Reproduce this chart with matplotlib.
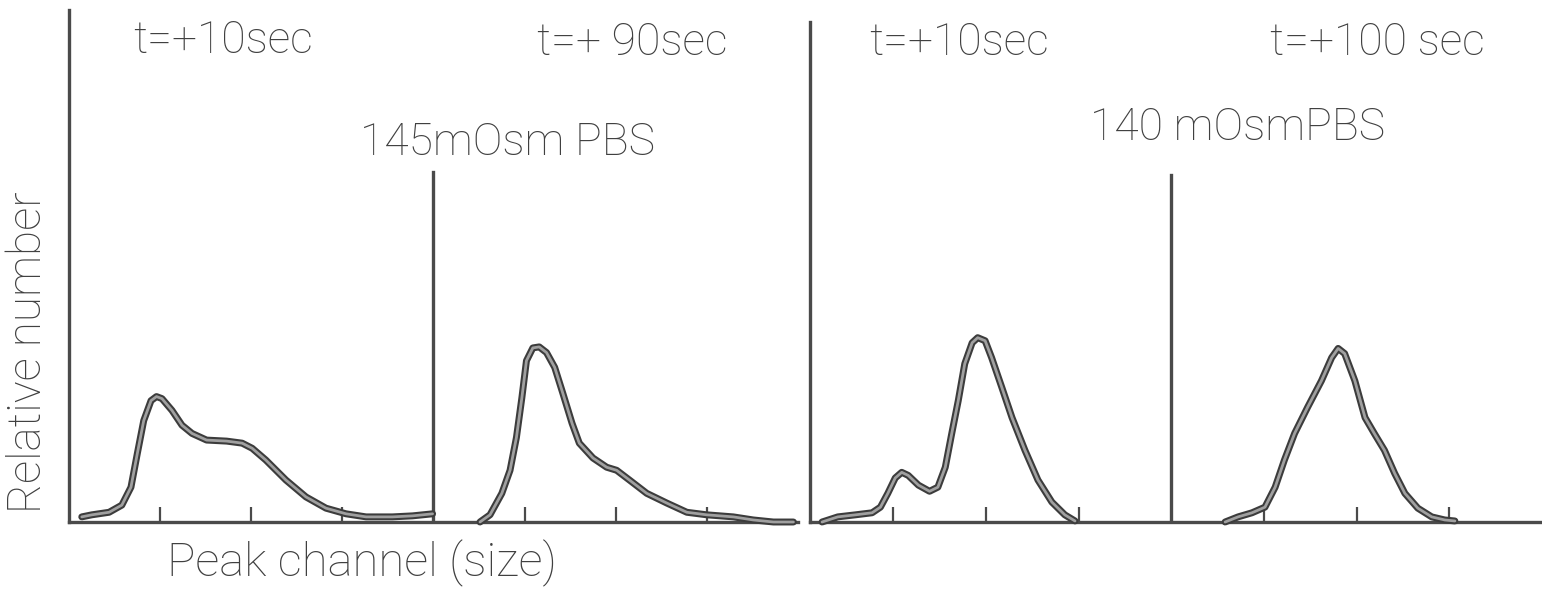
import matplotlib
matplotlib.use("Agg")
import matplotlib.pyplot as plt

# peak channel (tick spacing = 1) vs relative number (axis height = 100)
x_145_10 = [0.14, 0.25, 0.44, 0.58, 0.68, 0.75, 0.82, 0.90, 0.96, 1.02, 1.13, 1.24, 1.35,
            1.51, 1.73, 1.90, 2.01, 2.16, 2.38, 2.60, 2.82, 3.04, 3.26, 3.55, 3.77, 3.99]
y_145_10 = [1.0, 1.4, 1.9, 3.3, 6.8, 13.4, 19.8, 23.7, 24.5, 24.1, 21.8, 18.9, 17.3,
            16.0, 15.8, 15.4, 14.4, 12.1, 8.2, 4.9, 2.7, 1.6, 1.0, 1.0, 1.2, 1.6]

x_145_90 = [4.51, 4.62, 4.75, 4.84, 4.91, 4.97, 5.02, 5.09, 5.16, 5.24, 5.33, 5.42, 5.52,
            5.60, 5.75, 5.90, 6.01, 6.15, 6.34, 6.56, 6.78, 7.00, 7.29, 7.51, 7.73, 7.95]
y_145_90 = [0.0, 1.4, 5.6, 10.1, 16.5, 24.3, 31.5, 34.0, 34.2, 33.1, 30.2, 25.1, 19.3,
            15.4, 12.5, 10.7, 10.1, 8.2, 5.6, 3.7, 1.9, 1.4, 1.0, 0.4, 0.0, 0.0]

x_140_10 = [0.23, 0.40, 0.59, 0.77, 0.86, 0.94, 1.02, 1.09, 1.16, 1.27, 1.39, 1.48, 1.56, 1.63,
            1.70, 1.77, 1.85, 1.91, 1.99, 2.06, 2.17, 2.28, 2.42, 2.56, 2.71, 2.85, 2.96]
y_140_10 = [0.0, 1.0, 1.4, 1.8, 2.9, 5.6, 8.6, 9.7, 9.1, 7.2, 6.0, 6.8, 10.7, 17.3,
            23.7, 30.9, 35.0, 36.0, 35.4, 32.1, 26.3, 20.4, 14.0, 8.2, 3.9, 1.4, 0.2]

x_140_100 = [4.58, 4.72, 4.87, 5.01, 5.12, 5.22, 5.33, 5.47, 5.62, 5.73, 5.80,
             5.87, 5.98, 6.09, 6.19, 6.30, 6.41, 6.52, 6.66, 6.81, 6.95, 7.06]
y_140_100 = [0.0, 1.0, 1.8, 2.9, 6.8, 12.1, 17.3, 22.4, 27.6, 32.1, 33.9,
             32.9, 27.6, 20.4, 17.3, 14.0, 9.5, 5.6, 2.7, 1.0, 0.4, 0.2]

tick_pos = [1, 2, 3, 5, 6, 7]
labels_a = ["t=+10sec", "t=+ 90sec", "145mOsm PBS"]
labels_b = ["t=+10sec", "t=+100 sec", "140 mOsmPBS"]

plt.rcParams['font.family'] = ['Roboto', 'DejaVu Sans']
INK = '#4a4a4a'
TXT = '#404040'
W, H = 1542, 589

fig = plt.figure(figsize=(15.42, 5.89), dpi=100)


def frame(left, right, x0):
    ax = fig.add_axes([left / W, (H - 522) / H, (right - left) / W, 512 / H])
    ax.set_xlim(x0, 8)
    ax.set_ylim(0, 100)
    ax.patch.set_visible(False)
    for s in ['top', 'right']:
        ax.spines[s].set_visible(False)
    for s in ['left', 'bottom']:
        ax.spines[s].set_color(INK)
        ax.spines[s].set_linewidth(2.4)
    ax.set_xticks(tick_pos)
    ax.set_xticklabels([])
    ax.set_yticks([])
    ax.tick_params(axis='x', direction='in', length=11, width=1.6, color=INK)
    return ax


def curve(ax, x, y):
    ax.plot(x, y, color='#3c3c3c', lw=5.0, solid_joinstyle='round',
            solid_capstyle='round', clip_on=False, zorder=3)
    ax.plot(x, y, color='#a0a0a0', lw=2.0, solid_joinstyle='round',
            solid_capstyle='round', clip_on=False, zorder=4)


txt = dict(fontsize=32, fontweight='light', color=TXT, va='center', ha='left')

ax1 = frame(69, 798, 0)
ax1.axvline(4, ymax=68.4 / 100, color=INK, lw=2.4)
curve(ax1, x_145_10, y_145_10)
curve(ax1, x_145_90, y_145_90)
ax1.text(0.70, 94.0, labels_a[0], **txt)
ax1.text(5.14, 93.6, labels_a[1], **txt)
ax1.text(3.19, 74.0, labels_a[2], **txt)

ax2 = frame(810, 1542, 0.1)
ax2.spines['left'].set_bounds(0, 97.6)
ax2.axvline(4, ymax=67.8 / 100, color=INK, lw=2.4)
curve(ax2, x_140_10, y_140_10)
curve(ax2, x_140_100, y_140_100)
ax2.text(0.74, 93.6, labels_b[0], **txt)
ax2.text(5.06, 93.6, labels_b[1], **txt)
ax2.text(3.12, 77.0, labels_b[2], **txt)

fig.text(362 / W, (H - 563) / H, "Peak channel (size)", fontsize=34, fontweight='light',
         color=TXT, ha='center', va='center')
fig.text(28 / W, (H - 352) / H, "Relative number", fontsize=33, fontweight='light',
         color=TXT, ha='center', va='center', rotation=90)

fig.savefig('out.png', dpi=100, facecolor='white')
